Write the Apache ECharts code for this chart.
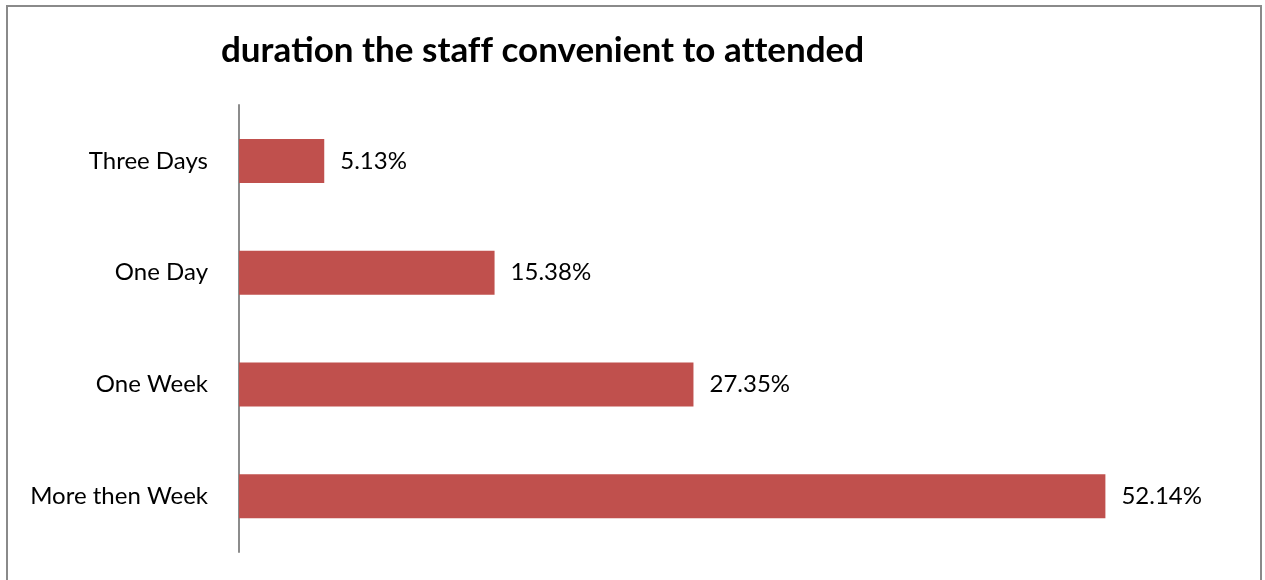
<!DOCTYPE html>
<html>
<head>
<meta charset="utf-8">
<script src="https://cdn.jsdelivr.net/npm/echarts@6/dist/echarts.min.js"></script>
<style>html,body{margin:0;padding:0;background:#fff;}#c{width:1265px;height:580px;}</style>
</head>
<body>
<div id="c"></div>
<script>
const categories = ['More then Week', 'One Week', 'One Day', 'Three Days'];
const values = [52.14, 27.35, 15.38, 5.13];
// title split into pieces so the font does not draw ligatures (ti, ff, tt)
const titleParts = ['dura', 'tion the staf', 'f convenient to at', 'tended'];

const chart = echarts.init(document.getElementById('c'), null, {renderer: 'canvas'});
const tStyle = {fontFamily: 'Lato', fontWeight: 'bold', fontSize: 35, color: '#000'};
chart.setOption({
  animation: false,
  backgroundColor: '#fff',
  title: {
    text: titleParts.map(s => '{t|' + s + '}').join(''),
    left: 216, top: 28,
    textStyle: Object.assign({}, tStyle, {rich: {t: tStyle}})
  },
  graphic: [{
    type: 'rect', silent: true,
    shape: {x: 7, y: 6, width: 1254, height: 600},
    style: {fill: 'none', stroke: '#8a8a8a', lineWidth: 2}
  }],
  grid: {left: 239, right: 29, top: 105, bottom: 28, containLabel: false},
  xAxis: {
    type: 'value', min: 0, max: 60, show: false
  },
  yAxis: {
    type: 'category', data: categories,
    axisLine: {show: true, lineStyle: {color: '#8c8c8c', width: 2}},
    axisTick: {show: false},
    axisLabel: {fontFamily: 'Lato', fontSize: 24, color: '#000', margin: 31},
    splitLine: {show: false}
  },
  series: [{
    type: 'bar', data: values, barWidth: 44,
    itemStyle: {color: '#C0504D'},
    label: {
      show: true, position: 'right', distance: 16,
      fontFamily: 'Lato', fontSize: 24, color: '#000',
      formatter: p => p.value.toFixed(2) + '%'
    }
  }]
});
</script>
</body>
</html>
